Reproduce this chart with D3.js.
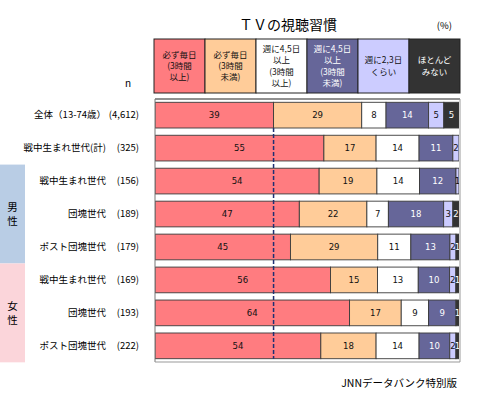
<!DOCTYPE html>
<html>
<head>
<meta charset="utf-8">
<script src="https://cdn.jsdelivr.net/npm/d3@7"></script>
<style>
  body { margin: 0; background: #fff; }
  text { font-family: "Noto Sans CJK JP", "Noto Sans", sans-serif; }
</style>
</head>
<body>
<div id="chart"></div>
<script>
const categories = [
  '必ず毎日(3時間以上)', '必ず毎日(3時間未満)', '週に4,5日以上(3時間以上)',
  '週に4,5日以上(3時間未満)', '週に2,3日くらい', 'ほとんどみない'
];
const legendLines = [
  ['必ず毎日', '(3時間', '以上)'],
  ['必ず毎日', '(3時間', '未満)'],
  ['週に4,5日', '以上', '(3時間', '以上)'],
  ['週に4,5日', '以上', '(3時間', '未満)'],
  ['週に2,3日', 'くらい'],
  ['ほとんど', 'みない']
];
const rowLabels = [
  '全体（13-74歳）', '戦中生まれ世代(計)', '戦中生まれ世代', '団塊世代', 'ポスト団塊世代',
  '戦中生まれ世代', '団塊世代', 'ポスト団塊世代'
];
const rowN = ['(4,612)', '(325)', '(156)', '(189)', '(179)', '(169)', '(193)', '(222)'];
const values = [
  [39, 29, 8, 14, 5, 5],
  [55, 17, 14, 11, 2, 0],
  [54, 19, 14, 12, 1, 0],
  [47, 22, 7, 18, 3, 2],
  [45, 29, 11, 13, 2, 1],
  [56, 15, 13, 10, 2, 1],
  [64, 17, 9, 9, 0, 1],
  [54, 18, 14, 10, 2, 1]
];
const groups = [
  { name: '男性', from: 2, to: 4, color: '#b9cde5' },
  { name: '女性', from: 5, to: 7, color: '#fbd5da' }
];

const colors = ['#ff7c80', '#ffcc99', '#ffffff', '#666699', '#ccccff', '#333333'];
const textColors = ['#111', '#111', '#111', '#fff', '#111', '#fff'];

const width = 500;
const height = 393;
const plotLeft = 155;
const plotRight = 459;
const plotTop = 99;
const plotBottom = 362;

const svg = d3
  .select('#chart')
  .append('svg')
  .attr('width', width)
  .attr('height', height);

const xScale = d3.scaleLinear().domain([0, 100]).range([plotLeft, plotRight]);
const yScale = d3
  .scaleBand()
  .domain(d3.range(rowLabels.length))
  .range([plotTop, plotBottom])
  .paddingInner(0.22)
  .paddingOuter(0.1);
const legendScale = d3
  .scaleBand()
  .domain(d3.range(categories.length))
  .range([154, 460]);

// title
svg.append('text')
  .attr('x', 288).attr('y', 30)
  .attr('text-anchor', 'middle')
  .style('font-size', '14px')
  .text('ＴＶの視聴習慣');

svg.append('text')
  .attr('x', 452).attr('y', 29)
  .attr('text-anchor', 'end')
  .style('font-size', '9.5px')
  .text('(%)');

// legend header boxes
const legend = svg.selectAll('.legend')
  .data(categories)
  .enter()
  .append('g')
  .attr('class', 'legend');

legend.append('rect')
  .attr('x', (d, i) => legendScale(i))
  .attr('y', 39)
  .attr('width', legendScale.bandwidth())
  .attr('height', 54)
  .attr('fill', (d, i) => colors[i])
  .attr('stroke', '#222')
  .attr('stroke-width', 1);

legend.each(function (d, i) {
  const lines = legendLines[i];
  const lh = 11.3;
  const y0 = 66 - ((lines.length - 1) * lh) / 2;
  d3.select(this)
    .selectAll('text')
    .data(lines)
    .enter()
    .append('text')
    .attr('x', legendScale(i) + legendScale.bandwidth() / 2)
    .attr('y', (t, j) => y0 + j * lh)
    .attr('dy', '0.35em')
    .attr('text-anchor', 'middle')
    .style('font-size', '8.5px')
    .attr('fill', textColors[i])
    .text((t) => t);
});

svg.append('text')
  .attr('x', 125).attr('y', 87)
  .style('font-size', '10px')
  .text('n');

// group side boxes
groups.forEach(function (g) {
  const y0 = yScale(g.from) - (yScale.step() - yScale.bandwidth()) / 2;
  const y1 = yScale(g.to) + yScale.bandwidth() + (yScale.step() - yScale.bandwidth()) / 2;
  svg.append('rect')
    .attr('x', 0).attr('y', y0)
    .attr('width', 25).attr('height', y1 - y0)
    .attr('fill', g.color);
  const mid = (y0 + y1) / 2;
  svg.selectAll(null)
    .data(g.name.split(''))
    .enter()
    .append('text')
    .attr('x', 12.5)
    .attr('y', (c, j) => mid - 7 + j * 14)
    .attr('dy', '0.35em')
    .attr('text-anchor', 'middle')
    .style('font-size', '10.5px')
    .text((c) => c);
});

// row labels
svg.selectAll('.rowLabel')
  .data(rowLabels)
  .enter()
  .append('text')
  .attr('class', 'rowLabel')
  .attr('x', 106)
  .attr('y', (d, i) => yScale(i) + yScale.bandwidth() / 2)
  .attr('dy', '0.35em')
  .attr('text-anchor', 'end')
  .style('font-size', '9.5px')
  .text((d) => d);

svg.selectAll('.rowN')
  .data(rowN)
  .enter()
  .append('text')
  .attr('class', 'rowN')
  .attr('x', 139)
  .attr('y', (d, i) => yScale(i) + yScale.bandwidth() / 2)
  .attr('dy', '0.35em')
  .attr('text-anchor', 'end')
  .style('font-size', '9.5px')
  .text((d) => d);

svg.append('clipPath')
  .attr('id', 'plotClip')
  .append('rect')
  .attr('x', plotLeft).attr('y', plotTop)
  .attr('width', plotRight - plotLeft).attr('height', plotBottom - plotTop);

// stacked segments, each row normalised to 100%
const segments = [];
values.forEach(function (row, i) {
  const total = d3.sum(row);
  let cum = 0;
  row.forEach(function (v, k) {
    segments.push({ row: i, k: k, v: v, x0: (cum / total) * 100, x1: ((cum + v) / total) * 100 });
    cum += v;
  });
});

const plot = svg.append('g').attr('clip-path', 'url(#plotClip)');

plot.selectAll('rect')
  .data(segments.filter((d) => d.v > 0))
  .enter()
  .append('rect')
  .attr('x', (d) => xScale(d.x0))
  .attr('y', (d) => yScale(d.row))
  .attr('width', (d) => xScale(d.x1) - xScale(d.x0))
  .attr('height', yScale.bandwidth())
  .attr('fill', (d) => colors[d.k])
  .attr('stroke', '#3a3a3a')
  .attr('stroke-width', 0.9);

plot.selectAll('.segLabel')
  .data(segments.filter((d) => d.v > 0))
  .enter()
  .append('text')
  .attr('class', 'segLabel')
  .attr('x', (d) => (xScale(d.x0) + xScale(d.x1)) / 2)
  .attr('y', (d) => yScale(d.row) + yScale.bandwidth() / 2)
  .attr('dy', '0.35em')
  .attr('text-anchor', 'middle')
  .attr('fill', (d) => textColors[d.k])
  .style('font-family', '"Liberation Sans Narrow", "DejaVu Sans Condensed", sans-serif')
  .style('font-size', '9.5px')
  .text((d) => d.v);

// reference dashed line at the overall first-category share
const refX = xScale((values[0][0] / d3.sum(values[0])) * 100);
svg.append('line')
  .attr('x1', refX).attr('x2', refX)
  .attr('y1', yScale(0) + yScale.bandwidth())
  .attr('y2', yScale(7) + yScale.bandwidth())
  .attr('stroke', '#1f2f73')
  .attr('stroke-width', 1.5)
  .attr('stroke-dasharray', '4,2');

// plot frame
svg.append('line')
  .attr('x1', plotLeft).attr('x2', plotRight + 1)
  .attr('y1', plotTop).attr('y2', plotTop)
  .attr('stroke', '#222').attr('stroke-width', 1.2);
svg.append('line')
  .attr('x1', plotLeft).attr('x2', plotLeft)
  .attr('y1', plotTop).attr('y2', plotBottom)
  .attr('stroke', '#777').attr('stroke-width', 1);
svg.append('line')
  .attr('x1', plotRight + 1).attr('x2', plotRight + 1)
  .attr('y1', plotTop).attr('y2', plotBottom)
  .attr('stroke', '#999').attr('stroke-width', 1);
svg.append('line')
  .attr('x1', plotLeft).attr('x2', plotRight + 1)
  .attr('y1', plotBottom).attr('y2', plotBottom)
  .attr('stroke', '#999').attr('stroke-width', 1);

svg.append('text')
  .attr('x', 457).attr('y', 387)
  .attr('text-anchor', 'end')
  .style('font-size', '10.5px')
  .text('JNNデータバンク特別版');
</script>
</body>
</html>
